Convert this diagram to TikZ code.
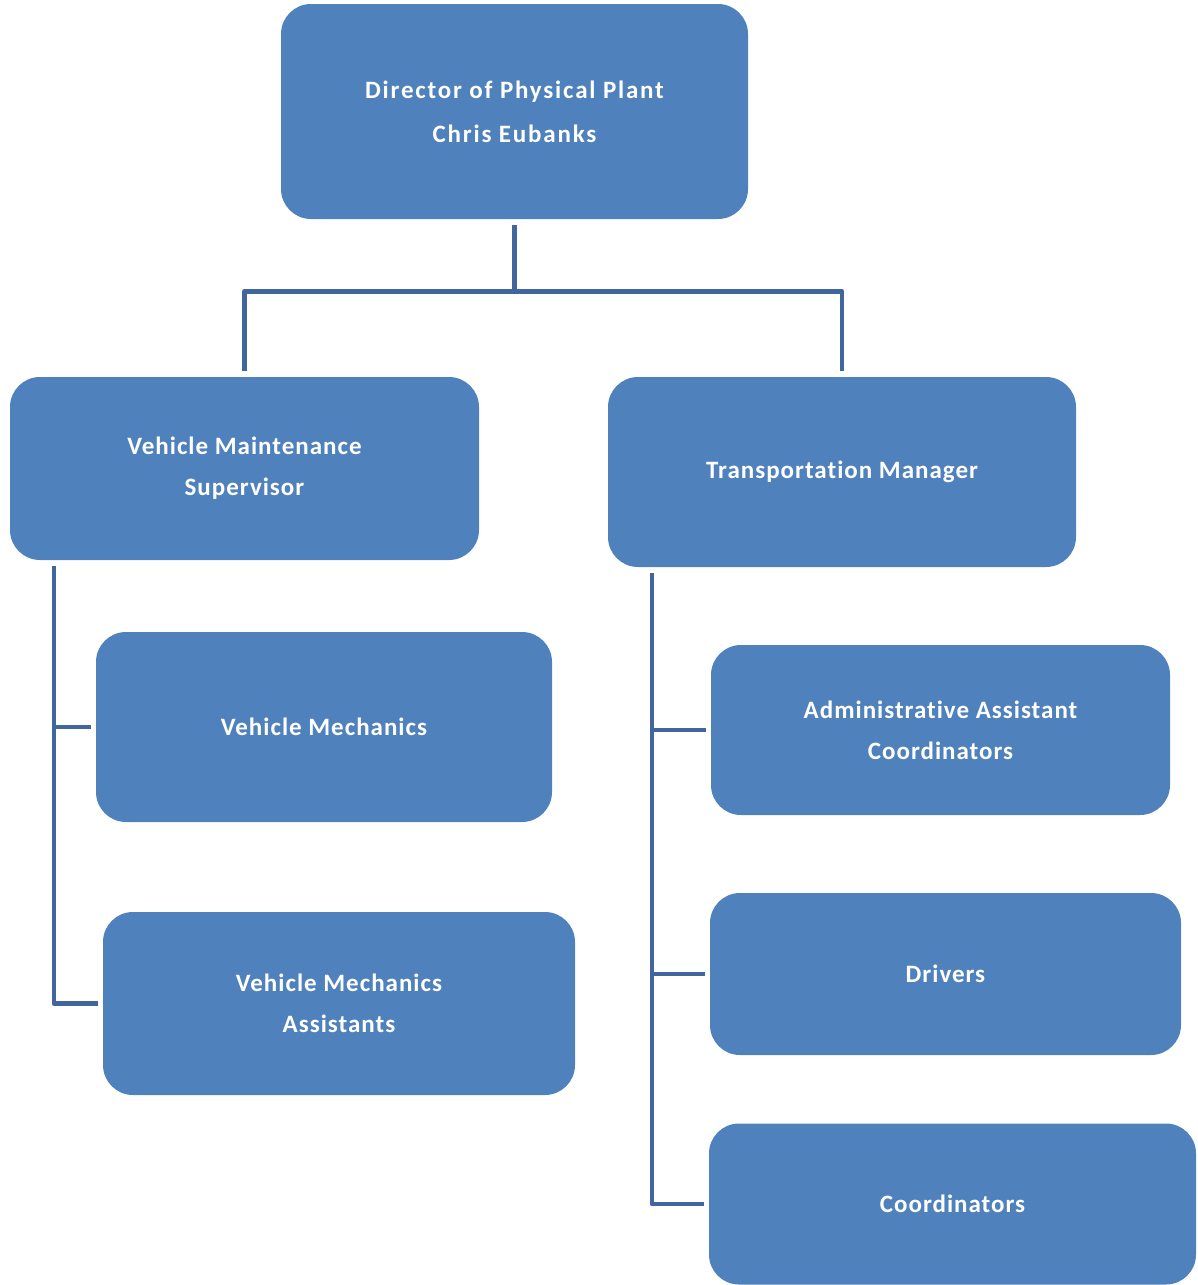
\documentclass[tikz,border=0pt]{standalone}
\usepackage{fontspec}
\setmainfont{Carlito}
\newfontfamily\unitfont[LetterSpace=4,Ligatures=NoCommon]{Carlito}
\newfontfamily\headfont[LetterSpace=7.2,Ligatures=NoCommon]{Carlito}
\usetikzlibrary{calc}
\definecolor{boxblue}{HTML}{4F81BD}
\definecolor{linkblue}{HTML}{41669D}
\tikzset{
  unit/.style={draw=none, fill=boxblue, rounded corners=30pt, text=white,
    align=center, inner sep=0pt,
    font=\unitfont\bfseries\fontsize{25}{41}\selectfont},
  conn/.style={draw=linkblue, line width=4.6pt, line join=round}
}
\begin{document}
\begin{tikzpicture}[x=1pt,y=-1pt]
\useasboundingbox (0,0) rectangle (1198,1285);
% units (centre, width, height)
\node[unit, minimum width=467pt, minimum height=215pt,
  font=\headfont\bfseries\fontsize{25}{44}\selectfont] (dir) at (514.5,111.5)
  {Director of Physical Plant\\Chris Eubanks};
\node[unit, minimum width=469pt, minimum height=183pt] (vms) at (244.5,468.5)
  {Vehicle Maintenance\\Supervisor};
\node[unit, minimum width=468pt, minimum height=190pt] (tm) at (842,472)
  {Transportation Manager};
\node[unit, minimum width=456pt, minimum height=190pt] (vm) at (324,727)
  {Vehicle Mechanics};
\node[unit, minimum width=472pt, minimum height=183pt] (vma) at (339,1003.5)
  {Vehicle Mechanics\\Assistants};
\node[unit, minimum width=459pt, minimum height=170pt] (aac) at (940.5,730)
  {Administrative Assistant\\Coordinators};
\node[unit, minimum width=471pt, minimum height=162pt] (drv) at (945.5,974)
  {Drivers};
\node[unit, minimum width=487pt, minimum height=161pt] (crd) at (952.5,1204)
  {Coordinators};
% links from the director
\draw[conn] ([yshift=-6pt]dir.south) -- ++(0,66) coordinate (j);
\draw[conn] ([yshift=6pt]vms.north) |- (j) -| ([yshift=6pt]tm.north);
% maintenance branch
\coordinate (lt) at ([xshift=44pt,yshift=-6pt]vms.south west);
\draw[conn] (lt) |- ([xshift=-5pt]vma.west);
\draw[conn] (lt |- vm.west) -- ([xshift=-5pt]vm.west);
% transportation branch
\coordinate (rt) at ([xshift=44pt,yshift=-6pt]tm.south west);
\draw[conn] (rt) |- ([xshift=-5pt]crd.west);
\draw[conn] (rt |- aac.west) -- ([xshift=-5pt]aac.west);
\draw[conn] (rt |- drv.west) -- ([xshift=-5pt]drv.west);
\end{tikzpicture}
\end{document}
